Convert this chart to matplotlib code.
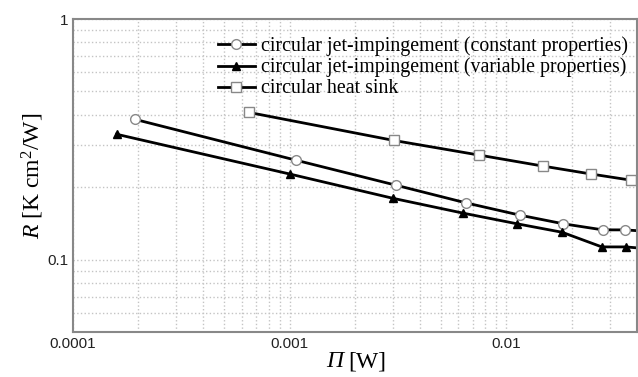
import numpy as np
import matplotlib.pyplot as plt

# данные
x_const = [1.93e-4, 1.07e-3, 3.09e-3, 6.55e-3, 0.0116, 0.0183, 0.0279, 0.0352, 0.04]
r_const = [0.383, 0.259, 0.204, 0.172, 0.153, 0.141, 0.133, 0.133, 0.132]
mark_const = list(range(8))

x_var = [1.59e-4, 1.0e-3, 2.99e-3, 6.34e-3, 0.0112, 0.0181, 0.0276, 0.0356, 0.04]
r_var = [0.332, 0.227, 0.180, 0.156, 0.141, 0.130, 0.113, 0.113, 0.112]
mark_var = list(range(8))

x_sink = [6.5e-4, 3.02e-3, 7.5e-3, 0.0147, 0.0246, 0.0376, 0.04]
r_sink = [0.409, 0.313, 0.272, 0.245, 0.227, 0.214, 0.212]
mark_sink = list(range(6))

labels = ['circular jet-impingement (constant properties)',
          'circular jet-impingement (variable properties)',
          'circular heat sink']

plt.rcParams['mathtext.fontset'] = 'custom'
plt.rcParams['mathtext.rm'] = 'Liberation Serif'
plt.rcParams['mathtext.it'] = 'Liberation Serif:italic'

fig = plt.figure(figsize=(6.38, 3.77), dpi=100)
ax = fig.add_axes([0.1144, 0.119, 0.8836, 0.8306])

ax.plot(x_const, r_const, '-', color='black', lw=2, marker='o', markevery=mark_const,
        ms=7, mfc='white', mec='#888888', mew=1, label=labels[0])
ax.plot(x_var, r_var, '-', color='black', lw=2, marker='^', markevery=mark_var,
        ms=6, mfc='black', mec='black', label=labels[1])
ax.plot(x_sink, r_sink, '-', color='black', lw=2, marker='s', markevery=mark_sink,
        ms=7, mfc='white', mec='#888888', mew=1, label=labels[2])

ax.set_xscale('log')
ax.set_yscale('log')
ax.set_xlim(1e-4, 0.04)
ax.set_ylim(0.05, 1)

ax.set_xticks([1e-4, 1e-3, 1e-2])
ax.set_xticklabels(['0.0001', '0.001', '0.01'])
ax.set_yticks([0.1, 1])
ax.set_yticklabels(['0.1', '1'])
ax.yaxis.set_minor_formatter(plt.NullFormatter())
ax.xaxis.set_minor_formatter(plt.NullFormatter())
ax.tick_params(which='both', length=0, labelsize=11, colors='#222222')
for t in ax.get_xticklabels() + ax.get_yticklabels():
    t.set_family('Liberation Sans')

ax.grid(True, which='both', ls=':', color='#c4c4c4', lw=1)
for s in ax.spines.values():
    s.set_color('#888888')
    s.set_linewidth(1.5)

# подпись оси X: курсивная П и обычный текст
fig.text(0.5376, 0.04, 'Π', family='Liberation Serif', style='italic', fontsize=17,
         ha='right', va='center')
fig.text(0.5455, 0.04, '[W]', family='Liberation Serif', fontsize=17,
         ha='left', va='center')
ax.set_ylabel(r'$\mathit{R}$ [K cm$^2$/W]', family='Liberation Serif', fontsize=17, labelpad=1)

ax.legend(loc='upper right', frameon=False, prop={'family': 'Liberation Serif', 'size': 14.3},
          handlelength=1.85, handletextpad=0.35, labelspacing=0.1,
          borderaxespad=0.3, bbox_to_anchor=(1.01, 0.99))

fig.savefig('out.png', dpi=100)
